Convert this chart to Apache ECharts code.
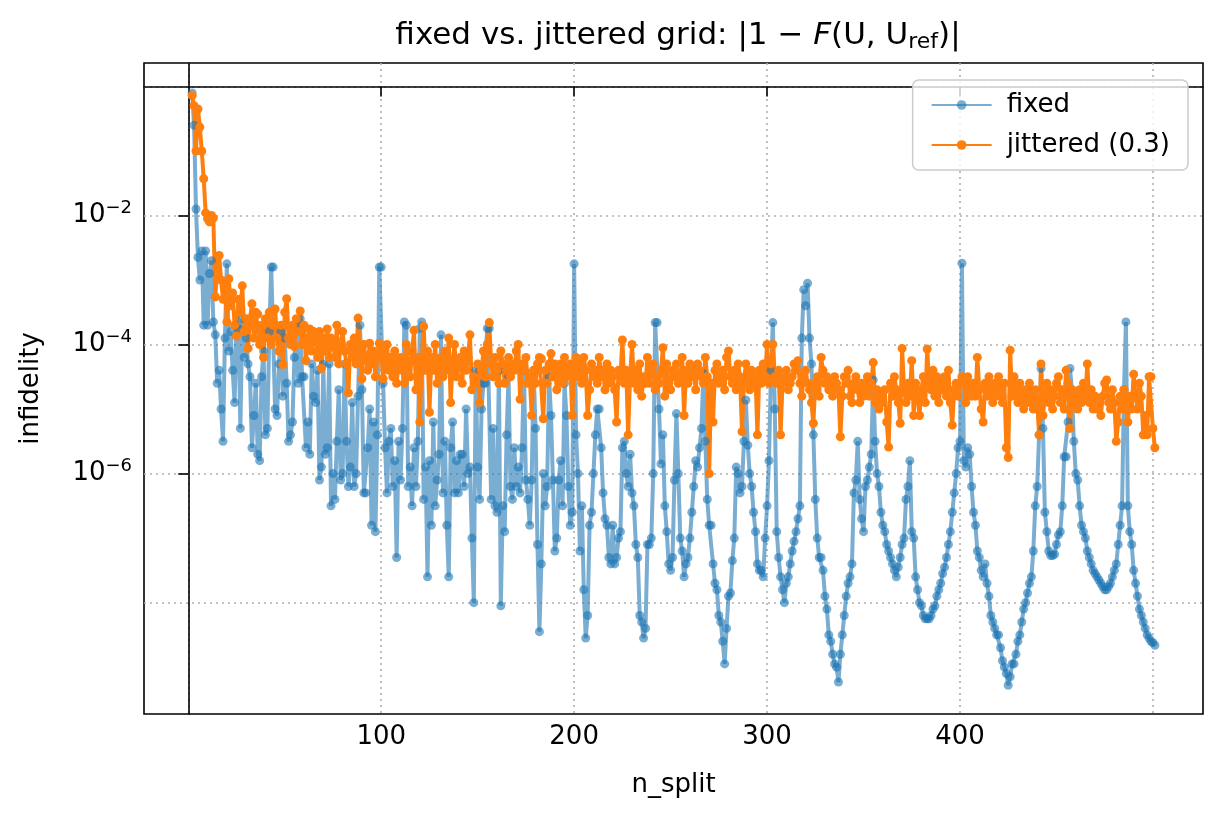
<!DOCTYPE html>
<html>
<head>
    <meta charset="UTF-8">
    <title>fixed vs. jittered grid</title>
    <script src="https://cdn.jsdelivr.net/npm/echarts@6/dist/echarts.min.js"></script>
</head>
<body style="margin:0;background:#fff">
<div id="chart" style="width:1223px;height:823px;"></div>
<script type="text/javascript">

    // n_split runs 2..501, one point each
    var nStart = 2;

    // log10(infidelity), fixed grid (10 per row)
    var fixedLog = [
        -0.1, -0.6, -1.9, -2.65, -3.0, -2.55, -3.7, -2.55, -3.7, -2.9,
        -2.7, -3.65, -3.85, -4.6, -4.4, -5.0, -5.5, -3.9, -2.75, -4.1,
        -3.8, -4.4, -4.9, -3.7, -3.75, -5.3, -3.6, -4.2, -3.9, -4.3,
        -4.5, -5.6, -5.1, -4.6, -5.7, -5.8, -4.5, -4.1, -5.4, -5.3,
        -3.8, -2.8, -2.8, -5.0, -5.1, -4.3, -3.8, -4.8, -3.9, -4.6,
        -5.5, -5.4, -5.2, -4.2, -3.7, -4.6, -3.6, -4.5, -4.5, -5.6,
        -5.2, -5.7, -4.3, -4.8, -4.9, -4.4, -6.1, -5.9, -4.3, -5.7,
        -5.6, -4.3, -6.5, -6.0, -6.4, -5.5, -4.7, -6.1, -6.0, -4.3,
        -5.5, -6.2, -5.9, -4.9, -6.2, -6.0, -4.8, -3.7, -4.7, -6.3,
        -6.3, -5.6, -5.0, -6.8, -5.2, -6.9, -5.4, -2.8, -2.8, -4.6,
        -5.6, -6.3, -5.5, -5.3, -6.2, -5.8, -7.3, -5.5, -6.1, -5.3,
        -3.65, -3.7, -6.2, -5.9, -6.5, -5.6, -6.2, -5.5, -3.75, -3.65,
        -6.4, -5.9, -7.6, -5.8, -6.8, -5.2, -6.5, -6.1, -5.7, -3.85,
        -6.3, -5.5, -6.8, -7.6, -5.6, -5.2, -6.3, -5.8, -6.3, -5.7,
        -5.7, -6.2, -5.0, -6.0, -5.9, -7.0, -8.0, -4.4, -5.9, -6.4,
        -5.0, -4.6, -4.6, -3.75, -3.75, -6.4, -5.3, -6.5, -6.6, -4.4,
        -8.05, -6.5, -6.9, -5.4, -4.5, -6.2, -6.4, -5.6, -6.2, -5.9,
        -6.3, -5.6, -4.4, -6.1, -6.4, -6.8, -6.1, -4.4, -5.3, -7.1,
        -8.45, -7.4, -6.0, -6.5, -6.2, -4.5, -5.1, -6.1, -7.2, -7.0,
        -6.1, -5.8, -6.5, -4.6, -5.1, -6.2, -6.8, -6.6, -2.75, -5.4,
        -6.0, -7.2, -6.5, -7.8, -8.55, -8.2, -6.8, -6.6, -6.0, -5.4,
        -5.0, -5.0, -5.6, -6.3, -6.7, -6.8, -7.3, -7.4, -6.8, -7.4,
        -7.3, -7.0, -6.9, -5.6, -5.5, -6.0, -6.2, -5.7, -6.3, -6.5,
        -7.1, -7.3, -8.2, -8.3, -8.55, -8.4, -7.1, -7.1, -7.0, -6.0,
        -3.66, -3.66, -5.0, -5.85, -5.4, -6.5, -6.9, -7.4, -7.5, -7.3,
        -6.1, -5.07, -6.0, -7.0, -7.2, -7.6, -7.4, -7.3, -7.0, -6.6,
        -6.2, -5.8, -5.9, -5.6, -5.3, -4.45, -5.5, -6.4, -6.8, -6.8,
        -7.4, -7.7, -7.8, -8.2, -8.3, -8.6, -8.95, -8.4, -7.9, -7.85,
        -7.35, -7.0, -5.9, -6.0, -6.3, -6.2, -5.5, -4.86, -5.56, -6.0,
        -6.2, -6.6, -6.9, -7.4, -7.5, -7.5, -7.6, -7.0, -6.5, -5.8,
        -4.4, -3.66, -5.0, -6.9, -7.3, -7.6, -7.8, -8.0, -7.7, -7.6,
        -7.4, -7.2, -7.05, -6.9, -6.7, -6.5, -3.9, -3.15, -3.4, -3.05,
        -3.9, -4.3, -5.4, -6.4, -7.0, -7.3, -7.3, -7.5, -7.9, -8.1,
        -8.5, -8.6, -8.8, -8.95, -9.0, -9.23, -8.8, -8.5, -8.2, -7.9,
        -7.7, -7.6, -7.4, -6.3, -6.1, -5.5, -6.4, -6.7, -6.9, -6.2,
        -6.1, -5.9, -5.7, -4.55, -5.5, -6.0, -6.2, -6.6, -6.8, -6.9,
        -7.1, -7.2, -7.3, -7.4, -7.5, -7.6, -7.45, -7.3, -7.1, -7.0,
        -6.4, -6.2, -5.8, -6.9, -7.0, -7.6, -7.8, -8.0, -8.05, -8.2,
        -8.25, -8.25, -8.25, -8.2, -8.1, -8.05, -7.9, -7.8, -7.7, -7.55,
        -7.45, -7.3, -7.1, -6.9, -6.6, -6.3, -6.0, -5.6, -5.5, -2.74,
        -5.8, -5.9, -5.6, -5.7, -6.2, -6.6, -6.8, -7.2, -7.3, -7.5,
        -7.6, -7.4, -7.7, -7.9, -8.2, -8.3, -8.4, -8.5, -8.5, -8.7,
        -8.9, -9.0, -9.1, -9.28, -9.15, -8.95, -8.95, -8.8, -8.6, -8.5,
        -8.3, -8.1, -8.0, -7.85, -7.7, -7.6, -7.2, -6.5, -6.2, -5.4,
        -4.37, -5.3, -6.6, -6.9, -7.2, -7.27, -7.27, -7.25, -7.1, -6.95,
        -6.9, -6.5, -5.74, -5.74, -5.2, -4.37, -4.7, -5.5, -6.0, -6.1,
        -6.5, -6.8, -6.9, -7.0, -7.2, -7.3, -7.4, -7.5, -7.55, -7.6,
        -7.65, -7.7, -7.75, -7.8, -7.8, -7.75, -7.7, -7.6, -7.5, -7.4,
        -7.1, -6.8, -6.5, -4.7, -3.65, -6.5, -6.9, -7.1, -7.5, -7.7,
        -7.9, -8.1, -8.2, -8.3, -8.4, -8.5, -8.55, -8.6, -8.62, -8.66
    ];

    // log10(infidelity), jittered grid (0.3)
    var jitterLog = [
        -0.14, -0.3, -1.0, -0.35, -0.63, -1.0, -1.43, -1.96, -2.05, -2.1,
        -2.0, -2.04, -3.26, -2.8, -2.62, -3.0, -3.3, -3.1, -3.65, -2.98,
        -3.4, -3.2, -3.7, -3.87, -3.3, -3.5, -3.09, -3.8, -3.6, -4.06,
        -3.6, -3.37, -3.9, -3.5, -3.53, -4.0, -3.7, -4.2, -3.6, -3.9,
        -3.5, -4.0, -3.7, -3.45, -3.9, -4.1, -3.7, -4.31, -3.5, -3.29,
        -3.9, -4.0, -3.7, -4.03, -3.6, -3.8, -3.48, -4.0, -3.7, -4.25,
        -3.9, -3.76, -4.1, -3.8, -3.9, -4.2, -3.8, -4.37, -3.9, -4.1,
        -3.76, -4.2, -3.9, -4.0, -4.2, -3.7, -4.3, -4.0, -3.8, -4.1,
        -4.3, -4.75, -4.0, -4.2, -3.9, -4.3, -3.59, -4.1, -4.53, -4.0,
        -4.2, -4.4, -3.98, -4.3, -4.1, -4.5, -4.2, -3.98, -4.1, -4.53,
        -4.3, -4.0, -4.4, -4.2, -4.5, -4.1, -4.6, -4.3, -4.2, -4.4,
        -4.6, -4.0, -4.3, -4.5, -4.1, -3.78, -4.7, -4.2, -5.2, -4.3,
        -3.72, -4.4, -4.1, -5.05, -4.2, -4.4, -4.0, -4.6, -4.3, -4.2,
        -4.5, -4.1, -4.4, -3.9, -4.9, -4.3, -4.0, -4.5, -4.3, -4.2,
        -4.6, -4.1, -4.4, -4.2, -3.85, -4.7, -4.5, -4.6, -4.3, -4.9,
        -4.4, -4.1, -4.5, -4.0, -3.66, -4.3, -4.5, -4.2, -4.4, -4.6,
        -4.1, -4.3, -4.6, -4.4, -4.2, -4.5, -4.3, -4.4, -4.1, -4.0,
        -4.85, -4.3, -4.4, -4.2, -4.6, -4.5, -5.1, -4.4, -4.6, -4.3,
        -4.2, -4.22, -5.15, -4.4, -4.6, -4.3, -4.14, -4.5, -4.3, -4.7,
        -4.4, -4.3, -4.6, -4.2, -4.5, -4.4, -4.3, -5.1, -4.4, -4.2,
        -4.5, -4.3, -4.6, -4.2, -4.4, -5.1, -4.7, -4.3, -4.5, -4.4,
        -4.6, -4.2, -4.5, -4.4, -4.7, -4.3, -4.6, -4.4, -4.5, -4.7,
        -5.2, -4.4, -4.5, -3.93, -4.6, -4.4, -5.4, -4.5, -4.0, -4.6,
        -4.4, -4.7, -4.3, -4.8, -4.5, -4.6, -4.2, -4.6, -4.4, -4.3,
        -4.7, -4.5, -4.6, -4.4, -4.05, -4.8, -4.3, -4.6, -4.7, -4.4,
        -4.5, -4.3, -4.6, -4.5, -4.2, -5.1, -4.4, -4.6, -4.3, -4.5,
        -4.4, -4.7, -4.3, -4.4, -4.5, -4.6, -4.2, -4.5, -6.0, -4.6,
        -5.2, -4.4, -4.3, -4.6, -4.5, -4.4, -4.7, -4.2, -4.1, -4.5,
        -4.6, -4.4, -4.7, -4.3, -4.5, -5.35, -4.6, -4.3, -4.5, -4.7,
        -4.4, -4.6, -4.5, -5.4, -4.4, -4.6, -4.3, -4.5, -4.0, -4.6,
        -4.3, -4.0, -4.5, -4.6, -4.4, -5.4, -4.6, -4.5, -4.4, -4.7,
        -4.6, -4.5, -4.3, -4.4, -4.25, -4.6, -4.8, -4.5, -4.4, -4.6,
        -4.7, -4.9, -5.22, -4.6, -4.5, -4.8, -4.2, -4.4, -4.6, -4.5,
        -4.7, -4.6, -4.8, -4.5, -4.6, -4.7, -5.43, -4.8, -4.5, -4.6,
        -4.4, -4.8, -4.9, -4.6, -4.5, -4.7, -4.9, -4.6, -4.8, -4.7,
        -4.5, -4.8, -4.6, -4.28, -4.9, -4.7, -5.0, -4.8, -4.9, -4.7,
        -5.2, -5.59, -4.6, -4.8, -4.5, -4.7, -4.9, -5.22, -4.06, -4.7,
        -4.9, -4.6, -4.8, -4.25, -5.1, -4.6, -4.8, -5.1, -4.7, -4.5,
        -4.9, -4.07, -4.6, -4.7, -4.4, -4.8, -4.5, -4.9, -4.6, -4.7,
        -4.5, -4.8, -4.4, -4.9, -5.25, -4.7, -4.6, -4.8, -4.6, -4.5,
        -4.6, -4.9, -4.5, -4.7, -4.8, -4.6, -4.8, -4.2, -4.7, -5.0,
        -5.2, -4.6, -4.8, -4.5, -4.7, -4.9, -4.6, -4.8, -4.5, -4.7,
        -4.9, -4.6, -5.6, -5.75, -4.09, -4.8, -4.5, -4.7, -4.9, -4.6,
        -4.8, -5.0, -4.7, -4.9, -4.6, -4.8, -5.0, -4.7, -4.9, -5.4,
        -4.3, -5.1, -4.8, -4.6, -4.9, -4.7, -5.0, -4.8, -4.6, -4.5,
        -4.9, -4.7, -5.0, -4.4, -4.6, -5.3, -4.7, -4.9, -4.8, -5.0,
        -4.7, -4.9, -4.6, -4.8, -4.3, -4.9, -4.7, -5.0, -4.8, -5.0,
        -4.9, -5.1, -4.8, -4.6, -4.55, -4.9, -5.0, -4.7, -4.9, -5.5,
        -5.2, -4.8, -5.0, -4.7, -4.9, -5.2, -4.8, -5.0, -4.46, -4.8,
        -5.0, -4.6, -4.8, -5.4, -5.1, -5.4, -4.5, -4.5, -5.3, -5.6
    ];

    var xTicks = [0, 100, 200, 300, 400, 500];
    var yTicks = [-8, -6, -4, -2, 0];

    var FONT = 'DejaVu Sans';

    function pairs(arr) {
        return arr.map(function (v, i) {
            return [nStart + i, v];
        });
    }

    function sup(v) {
        var s = v < 0 ? '\u2212' + (-v) : '' + v;
        return '{b|10}{s|' + s + '}';
    }

    var myChart = echarts.init(document.getElementById('chart'));

    myChart.setOption({
        animation: false,
        backgroundColor: '#fff',
        textStyle: {fontFamily: FONT},
        title: {
            text: 'fixed vs. jittered grid: |1 \u2212 {i|F}(U, U{sub|ref})|',
            left: 673,
            textAlign: 'center',
            top: 14,
            textStyle: {
                fontFamily: FONT,
                fontWeight: 'normal',
                fontSize: 31,
                color: '#000',
                rich: {
                    i: {fontFamily: FONT, fontSize: 31, fontStyle: 'italic', color: '#000'},
                    sub: {fontFamily: FONT, fontSize: 22, color: '#000', padding: [12, 0, 0, 0]}
                }
            }
        },
        grid: {
            left: 144,
            top: 63,
            right: 20,
            bottom: 109,
            show: true,
            borderColor: '#000',
            borderWidth: 1.6,
            backgroundColor: 'transparent'
        },
        legend: {
            orient: 'vertical',
            right: 35,
            top: 80,
            padding: [12, 18, 12, 18],
            itemGap: 14,
            itemWidth: 60,
            itemHeight: 12,
            backgroundColor: 'rgba(255,255,255,0.8)',
            borderColor: '#cccccc',
            borderWidth: 1.5,
            borderRadius: 6,
            textStyle: {fontFamily: FONT, fontSize: 26, color: '#000', padding: [0, 0, 0, 10]},
            data: ['fixed', 'jittered (0.3)']
        },
        xAxis: {
            type: 'value',
            min: -22.95,
            max: 525.95,
            name: 'n_split',
            nameLocation: 'middle',
            nameGap: 58,
            nameTextStyle: {fontFamily: FONT, fontSize: 26, color: '#000'},
            axisLine: {show: true, lineStyle: {color: '#000', width: 1.6}},
            axisTick: {show: true, length: 10, lineStyle: {color: '#000', width: 1.6}, customValues: xTicks},
            axisLabel: {
                fontFamily: FONT, fontSize: 26, color: '#000', margin: 10,
                customValues: xTicks,
                showMinLabel: false, showMaxLabel: false,
                formatter: function (v) { return xTicks.indexOf(v) >= 0 ? '' + v : ''; }
            },
            splitLine: {show: true, lineStyle: {color: '#b0b0b0', type: [2, 4], width: 1.6}}
        },
        yAxis: {
            type: 'value',
            min: -9.726,
            max: 0.363,
            splitNumber: 5,
            name: 'infidelity',
            nameLocation: 'middle',
            nameGap: 100,
            nameTextStyle: {fontFamily: FONT, fontSize: 26, color: '#000'},
            axisLine: {show: true, lineStyle: {color: '#000', width: 1.6}},
            axisTick: {show: true, length: 10, lineStyle: {color: '#000', width: 1.6}, customValues: yTicks},
            axisLabel: {
                fontFamily: FONT, fontSize: 26, color: '#000', margin: 12,
                customValues: yTicks,
                showMinLabel: false, showMaxLabel: false,
                formatter: function (v) { return yTicks.indexOf(v) >= 0 ? sup(v) : ''; },
                rich: {
                    b: {fontFamily: FONT, fontSize: 26, color: '#000'},
                    s: {fontFamily: FONT, fontSize: 18, color: '#000', padding: [0, 0, 14, 0]}
                }
            },
            splitLine: {show: true, lineStyle: {color: '#b0b0b0', type: [2, 4], width: 1.6}}
        },
        series: [
            {
                name: 'fixed',
                type: 'line',
                data: pairs(fixedLog),
                symbol: 'circle',
                symbolSize: 9,
                showAllSymbol: true,
                clip: true,
                itemStyle: {color: '#1f77b4', opacity: 0.6},
                lineStyle: {color: '#1f77b4', width: 4, opacity: 0.6}
            },
            {
                name: 'jittered (0.3)',
                type: 'line',
                data: pairs(jitterLog),
                symbol: 'circle',
                symbolSize: 9,
                showAllSymbol: true,
                clip: true,
                itemStyle: {color: '#ff7f0e'},
                lineStyle: {color: '#ff7f0e', width: 4}
            }
        ]
    });
</script>
</body>
</html>
